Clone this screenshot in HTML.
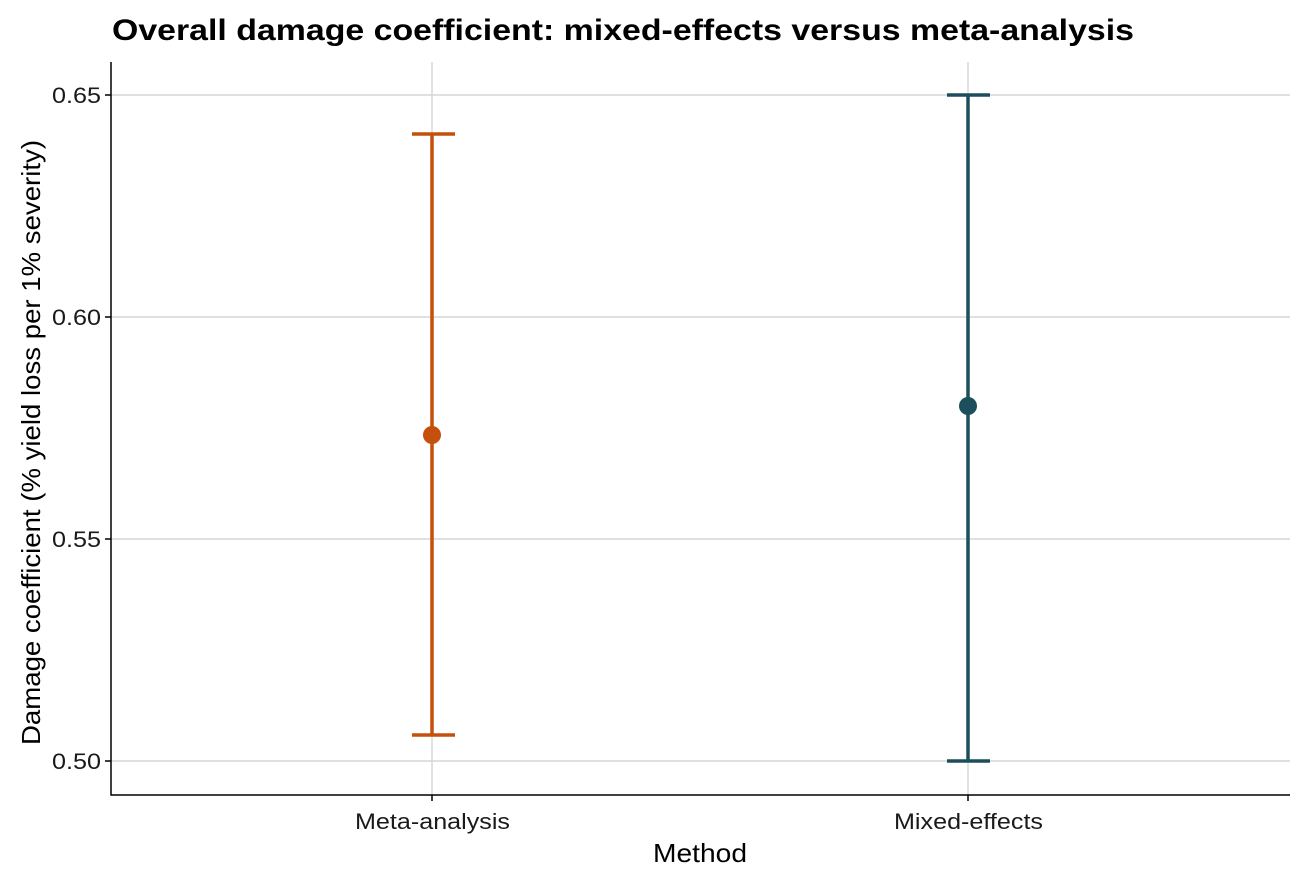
<!DOCTYPE html>
<html><head><meta charset="utf-8"><style>body{margin:0;background:#fff}</style></head><body>
<svg width="1305" height="883" xmlns="http://www.w3.org/2000/svg" font-family="Liberation Sans, Arial, sans-serif">
<rect width="1305" height="883" fill="#fff"/>
<text x="112" y="40" font-size="30" font-weight="bold" fill="#000" textLength="1022" lengthAdjust="spacingAndGlyphs">Overall damage coefficient: mixed-effects versus meta-analysis</text>
<g stroke="#d6d6d6" stroke-width="1.4">
<line x1="111" x2="1290" y1="95" y2="95"/><line x1="111" x2="1290" y1="317" y2="317"/>
<line x1="111" x2="1290" y1="539" y2="539"/><line x1="111" x2="1290" y1="761" y2="761"/>
<line x1="432" x2="432" y1="62" y2="795"/><line x1="968" x2="968" y1="62" y2="795"/>
</g>
<g stroke="#000" stroke-width="1.5" fill="none">
<polyline points="111,62 111,795 1290,795"/>
<line x1="105" x2="111" y1="95" y2="95"/><line x1="105" x2="111" y1="317" y2="317"/>
<line x1="105" x2="111" y1="539" y2="539"/><line x1="105" x2="111" y1="761" y2="761"/>
<line x1="432" x2="432" y1="795" y2="801"/><line x1="968" x2="968" y1="795" y2="801"/>
</g>
<g font-size="22" fill="#1a1a1a">
<text x="52" y="103" textLength="49" lengthAdjust="spacingAndGlyphs">0.65</text>
<text x="52" y="325" textLength="49" lengthAdjust="spacingAndGlyphs">0.60</text>
<text x="52" y="547" textLength="49" lengthAdjust="spacingAndGlyphs">0.55</text>
<text x="52" y="769" textLength="49" lengthAdjust="spacingAndGlyphs">0.50</text>
</g>
<g font-size="22" fill="#1a1a1a">
<text x="355" y="829" textLength="155" lengthAdjust="spacingAndGlyphs">Meta-analysis</text>
<text x="894" y="829" textLength="149" lengthAdjust="spacingAndGlyphs">Mixed-effects</text>
</g>
<text x="653" y="862" font-size="26" textLength="94" lengthAdjust="spacingAndGlyphs">Method</text>
<text transform="translate(40,745) rotate(-90)" font-size="26" textLength="605" lengthAdjust="spacingAndGlyphs">Damage coefficient (% yield loss per 1% severity)</text>
<g stroke="#C4500C" stroke-width="3.5">
<line x1="432" x2="432" y1="134" y2="735"/><line x1="412" x2="455" y1="134" y2="134"/><line x1="412" x2="455" y1="735" y2="735"/>
</g>
<circle cx="432" cy="435" r="9" fill="#C4500C"/>
<g stroke="#1B4F5C" stroke-width="3.5">
<line x1="968" x2="968" y1="95" y2="761"/><line x1="947" x2="990" y1="95" y2="95"/><line x1="947" x2="990" y1="761" y2="761"/>
</g>
<circle cx="968" cy="406" r="9" fill="#1B4F5C"/>
</svg>
</body></html>
